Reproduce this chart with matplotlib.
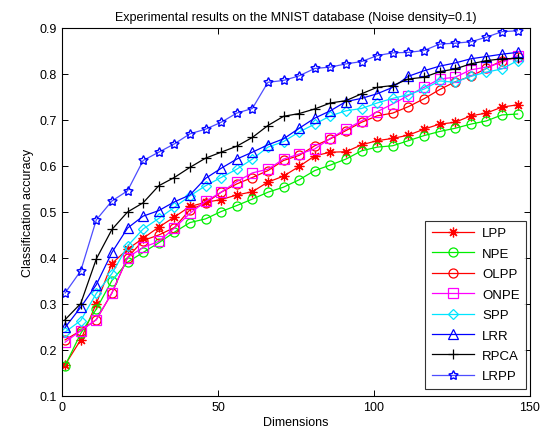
import matplotlib
matplotlib.use("Agg")
import matplotlib.pyplot as plt

plt.rcParams['font.family'] = ['Liberation Sans', 'DejaVu Sans']

dims = list(range(1, 147, 5))

lpp = [0.168, 0.222, 0.301, 0.388, 0.419, 0.443, 0.467, 0.489, 0.512, 0.521,
       0.527, 0.537, 0.544, 0.565, 0.578, 0.599, 0.622, 0.630, 0.631, 0.646,
       0.655, 0.660, 0.667, 0.680, 0.691, 0.695, 0.709, 0.715, 0.728, 0.733]
npe = [0.166, 0.236, 0.289, 0.351, 0.391, 0.412, 0.433, 0.456, 0.477, 0.485,
       0.501, 0.514, 0.528, 0.543, 0.554, 0.570, 0.590, 0.602, 0.615, 0.633,
       0.641, 0.644, 0.655, 0.666, 0.675, 0.682, 0.691, 0.698, 0.711, 0.713]
olpp = [0.222, 0.242, 0.266, 0.324, 0.401, 0.438, 0.450, 0.466, 0.505, 0.519,
        0.543, 0.561, 0.575, 0.590, 0.612, 0.623, 0.644, 0.659, 0.677, 0.695,
        0.709, 0.715, 0.729, 0.746, 0.766, 0.783, 0.795, 0.812, 0.829, 0.836]
onpe = [0.217, 0.242, 0.266, 0.324, 0.401, 0.423, 0.436, 0.465, 0.497, 0.523,
        0.543, 0.566, 0.585, 0.593, 0.615, 0.626, 0.637, 0.660, 0.680, 0.698,
        0.718, 0.735, 0.753, 0.771, 0.789, 0.793, 0.809, 0.815, 0.825, 0.840]
spp = [0.239, 0.264, 0.323, 0.366, 0.426, 0.463, 0.486, 0.510, 0.535, 0.557,
       0.575, 0.593, 0.615, 0.641, 0.653, 0.674, 0.691, 0.709, 0.720, 0.725,
       0.737, 0.747, 0.755, 0.767, 0.785, 0.782, 0.795, 0.804, 0.811, 0.829]
lrr = [0.249, 0.293, 0.342, 0.412, 0.465, 0.491, 0.503, 0.522, 0.537, 0.573,
       0.595, 0.615, 0.630, 0.646, 0.659, 0.682, 0.704, 0.720, 0.740, 0.747,
       0.757, 0.771, 0.795, 0.807, 0.817, 0.824, 0.833, 0.838, 0.843, 0.847]
rpca = [0.266, 0.301, 0.398, 0.462, 0.500, 0.520, 0.557, 0.575, 0.597, 0.617,
        0.630, 0.643, 0.662, 0.688, 0.708, 0.714, 0.724, 0.737, 0.742, 0.757,
        0.771, 0.775, 0.789, 0.793, 0.805, 0.811, 0.822, 0.829, 0.833, 0.834]
lrpp = [0.324, 0.372, 0.483, 0.524, 0.546, 0.612, 0.630, 0.648, 0.670, 0.680,
        0.695, 0.715, 0.725, 0.782, 0.786, 0.796, 0.812, 0.815, 0.822, 0.827,
        0.840, 0.846, 0.847, 0.851, 0.865, 0.867, 0.870, 0.880, 0.892, 0.894]

series = [
    ("LPP", lpp, "#ff0000", (8, 2, 0), 7),
    ("NPE", npe, "#00ee00", "o", 6.5),
    ("OLPP", olpp, "#ff0000", "o", 6.5),
    ("ONPE", onpe, "#ff00ff", "s", 6.5),
    ("SPP", spp, "#00e5ff", "D", 5),
    ("LRR", lrr, "#0000ff", "^", 7),
    ("RPCA", rpca, "#000000", "+", 7.5),
    ("LRPP", lrpp, "#2a2aff", (5, 1, 0), 7),
]

fig = plt.figure(figsize=(5.48, 4.39), dpi=100)
ax = fig.add_axes([62/548, 1-397/439, 468/548, 368/439])

for name, vals, col, mk, ms in series:
    if name == "LRPP":
        ax.plot(dims, vals, color="#4d4dff", linewidth=0.9, marker=mk,
                markersize=ms, markerfacecolor="none", markeredgecolor="#0000ff",
                markeredgewidth=1.0, label=name)
    else:
        ax.plot(dims, vals, color=col, linewidth=0.9, marker=mk, markersize=ms,
                markerfacecolor="none", markeredgecolor=col, markeredgewidth=0.9,
                label=name)

ax.set_xlim(0, 150)
ax.set_ylim(0.1, 0.9)
ax.set_xticks([0, 50, 100, 150])
ax.set_yticks([0.1, 0.2, 0.3, 0.4, 0.5, 0.6, 0.7, 0.8, 0.9])
ax.set_yticklabels(["0.1", "0.2", "0.3", "0.4", "0.5", "0.6", "0.7", "0.8", "0.9"])
ax.tick_params(direction="in", top=True, right=True, labelsize=9, length=4, width=0.7)
for sp in ax.spines.values():
    sp.set_linewidth(0.8)

ax.set_title("Experimental results on the MNIST database (Noise density=0.1)",
             fontsize=9, pad=6)
ax.set_xlabel("Dimensions", fontsize=9, labelpad=2)
ax.set_ylabel("Classification accuracy", fontsize=9, labelpad=4)

leg = ax.legend(loc="lower right", bbox_to_anchor=(0.992, 0.019), borderaxespad=0,
                fontsize=9.5, frameon=True, fancybox=False, handlelength=3.2,
                labelspacing=0.62, borderpad=0.5, handletextpad=0.6)
leg.get_frame().set_edgecolor("black")
leg.get_frame().set_linewidth(0.8)

fig.savefig("out.png", dpi=100)
